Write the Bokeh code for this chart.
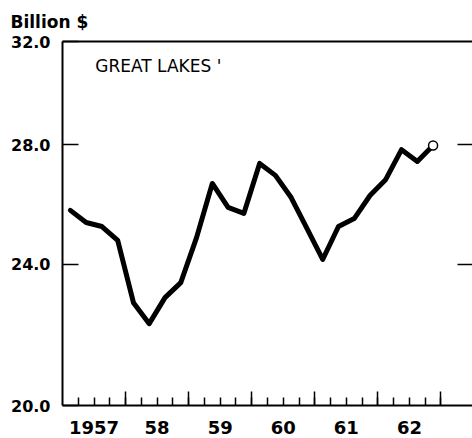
from bokeh.plotting import figure
from bokeh.models import Range1d, FixedTicker, LinearAxis, LogAxis, PrintfTickFormatter, Label
from bokeh.embed import file_html
from bokeh.resources import INLINE

# ---- data ----
years = [1957, 1958, 1959, 1960, 1961, 1962]
year_labels = ["1957", "58", "59", "60", "61", "62"]
quarters = [1, 2, 3, 4]
# quarterly values, billion $, 1957 Q1 .. 1962 Q4 (ratio scale)
values = [25.73, 25.33, 25.20, 24.75,
          22.84, 22.23, 22.99, 23.44,
          24.84, 26.64, 25.83, 25.63,
          27.34, 26.92, 26.16, 25.14,
          24.15, 25.20, 25.46, 26.23,
          26.78, 27.83, 27.41, 27.98]
y_ticks = [20, 24, 28, 32]
right_ticks = [24, 28]
title_text = "Billion $"
region_text = "GREAT LAKES '"

x = [y + (q - 0.5) / 4 for y in years for q in quarters]
year_bounds = [y + 1 for y in years]
quarter_bounds = [y + q / 4 for y in years for q in quarters]
mid_years = [y + 0.5 for y in years]

FONT = "DejaVu Sans"

p = figure(width=472, height=438,
           x_range=Range1d(1957, 1963.5), y_range=Range1d(20, 32),
           y_axis_type="log", output_backend="svg", toolbar_location=None,
           min_border_left=62, min_border_right=0, min_border_top=41, min_border_bottom=33)
p.outline_line_color = None
p.grid.visible = False
p.background_fill_color = "white"

# title
p.title.text = title_text
p.title.align = "left"
p.title.offset = -52
p.title.standoff = 19
p.title.text_font = FONT
p.title.text_font_style = "bold"
p.title.text_font_size = "17px"
p.title.text_color = "black"

# bottom tick axis (no labels)
xa = p.xaxis[0]
xa.ticker = FixedTicker(ticks=year_bounds, minor_ticks=quarter_bounds)
xa.major_tick_in = 14
xa.major_tick_out = 0
xa.minor_tick_in = 8
xa.minor_tick_out = 0
xa.major_tick_line_width = 1.5
xa.minor_tick_line_width = 1.5
xa.axis_line_width = 2
xa.major_label_overrides = {b: "" for b in year_bounds}
xa.major_label_text_font_size = "1px"
xa.major_label_standoff = 0

# bottom label axis
lab = LinearAxis(ticker=FixedTicker(ticks=mid_years),
                 major_label_overrides={m: t for m, t in zip(mid_years, year_labels)},
                 axis_line_color=None, major_tick_line_color=None, minor_tick_line_color=None,
                 major_label_standoff=9, major_label_text_font=FONT,
                 major_label_text_color="black",
                 major_label_text_font_style="bold", major_label_text_font_size="18px")
p.add_layout(lab, "below")

# left axis
ya = p.yaxis[0]
ya.ticker = FixedTicker(ticks=y_ticks)
ya.formatter = PrintfTickFormatter(format="%.1f")
ya.major_tick_in = 16
ya.major_tick_out = 0
ya.major_tick_line_width = 1.5
ya.minor_tick_line_color = None
ya.axis_line_width = 2
ya.major_label_standoff = 12
ya.major_label_text_font = FONT
ya.major_label_text_color = "black"
ya.major_label_text_font_style = "bold"
ya.major_label_text_font_size = "16px"

# right axis (inner ticks only)
ra = LogAxis(ticker=FixedTicker(ticks=right_ticks), major_tick_in=15, major_tick_out=0,
             major_tick_line_width=1.5, axis_line_color=None, minor_tick_line_color=None,
             major_label_overrides={t: "" for t in right_ticks},
             major_label_text_font_size="1px", major_label_standoff=0)
p.add_layout(ra, "right")

# top frame line
ta = LinearAxis(ticker=FixedTicker(ticks=[]), axis_line_width=2,
                major_tick_line_color=None, minor_tick_line_color=None,
                major_label_text_font_size="1px", major_label_standoff=0)
p.add_layout(ta, "above")

# region label
p.add_layout(Label(x=1957.52, y=31.4, text=region_text, text_align="left",
                   text_baseline="top", text_font=FONT, text_font_size="17px",
                   text_color="black"))

# series
p.line(x, values, line_width=5, color="black", line_join="round", line_cap="round")
p.scatter([x[-1]], [values[-1]], size=9, fill_color="white", line_color="black", line_width=1.5)

open("out.html", "w").write(file_html(p, INLINE))
